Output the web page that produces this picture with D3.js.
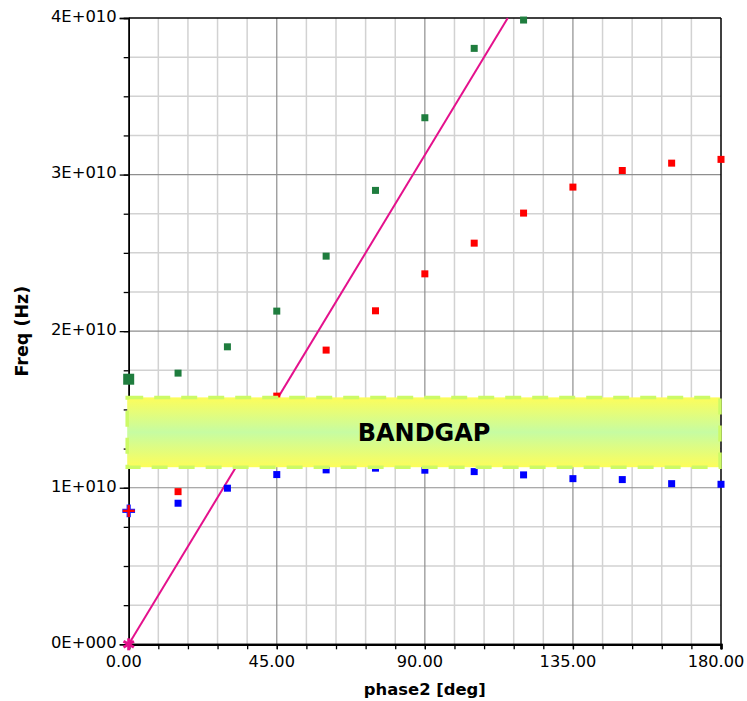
<!DOCTYPE html>
<html>
<head>
<meta charset="utf-8">
<script src="https://cdn.jsdelivr.net/npm/d3@7"></script>
<style>
  html, body { margin: 0; padding: 0; background: #ffffff; }
  svg { display: block; }
  text { font-family: "DejaVu Sans", Verdana, sans-serif; fill: #000; }
</style>
</head>
<body>
<svg id="chart" width="747" height="701"></svg>
<script>
// ---------- data ----------
const phases = [0, 15, 30, 45, 60, 75, 90, 105, 120, 135, 150, 165, 180];
const blueFreq  = [0.852e10, 0.901e10, 0.997e10, 1.084e10, 1.114e10, 1.125e10, 1.112e10, 1.103e10, 1.082e10, 1.058e10, 1.052e10, 1.026e10, 1.022e10];
const redFreq   = [0.852e10, 0.975e10, 1.24e10, 1.585e10, 1.879e10, 2.130e10, 2.366e10, 2.562e10, 2.754e10, 2.920e10, 3.026e10, 3.073e10, 3.097e10];
const greenPhases = [0, 15, 30, 45, 60, 75, 90, 105, 120];
const greenFreq = [1.693e10, 1.732e10, 1.900e10, 2.128e10, 2.479e10, 2.899e10, 3.363e10, 3.806e10, 3.987e10];
const lightLinePhase = [0, 115.2];
const lightLineFreq  = [0, 4.0e10];
const bandgapLow = 1.131e10;
const bandgapHigh = 1.577e10;
const bandgapLabel = "BANDGAP";
const xTickValues = [0, 45, 90, 135, 180];
const xTickLabels = ["0.00", "45.00", "90.00", "135.00", "180.00"];
const yTickValues = [0, 1e10, 2e10, 3e10, 4e10];
const yTickLabels = ["0E+000", "1E+010", "2E+010", "3E+010", "4E+010"];
const xMinorStep = 9;
const yMinorStep = 0.25e10;
const xTitle = "phase2 [deg]";
const yTitle = "Freq (Hz)";

// ---------- layout ----------
const L = 128.7, R = 721, T = 18, B = 644.3;
const svg = d3.select("#chart");
const x = d3.scaleLinear().domain([0, 180]).range([L, R]);
const y = d3.scaleLinear().domain([0, 4e10]).range([B, T]);

const xMinor = d3.range(0, 180 + 0.001, xMinorStep);
const yMinor = d3.range(0, 4e10 + 1, yMinorStep);

// gradient
const defs = svg.append("defs");
const grad = defs.append("linearGradient").attr("id", "bg").attr("x1", 0).attr("y1", 0).attr("x2", 0).attr("y2", 1);
grad.append("stop").attr("offset", "0%").attr("stop-color", "#fdfd5a");
grad.append("stop").attr("offset", "50%").attr("stop-color", "#c6fca2");
grad.append("stop").attr("offset", "100%").attr("stop-color", "#fdfd5a");
defs.append("clipPath").attr("id", "plotclip").append("rect")
  .attr("x", L).attr("y", T - 6).attr("width", R - L + 2).attr("height", B - T + 6);

// grid minor
const grid = svg.append("g");
grid.selectAll("line.vx").data(xMinor.filter(d => d % 45 !== 0)).join("line")
  .attr("x1", d => x(d)).attr("x2", d => x(d)).attr("y1", T).attr("y2", B)
  .attr("stroke", "#d2d2d2").attr("stroke-width", 1.5);
grid.selectAll("line.hy").data(yMinor.filter(d => Math.round(d / yMinorStep) % 4 !== 0)).join("line")
  .attr("x1", L).attr("x2", R).attr("y1", d => y(d)).attr("y2", d => y(d))
  .attr("stroke", "#d2d2d2").attr("stroke-width", 1.5);
// grid major
grid.selectAll("line.mx").data(xTickValues.slice(1, -1)).join("line")
  .attr("x1", d => x(d)).attr("x2", d => x(d)).attr("y1", T).attr("y2", B)
  .attr("stroke", "#8e8e8e").attr("stroke-width", 1.2);
grid.selectAll("line.my").data(yTickValues.slice(1, -1)).join("line")
  .attr("x1", L).attr("x2", R).attr("y1", d => y(d)).attr("y2", d => y(d))
  .attr("stroke", "#8e8e8e").attr("stroke-width", 1.2);

// frame top/right
svg.append("line").attr("x1", L).attr("x2", R).attr("y1", T).attr("y2", T).attr("stroke", "#000").attr("stroke-width", 1.5);
svg.append("line").attr("x1", R).attr("x2", R).attr("y1", T).attr("y2", B).attr("stroke", "#000").attr("stroke-width", 1.5);

// axes
const xAxisMinor = d3.axisBottom(x).tickValues(xMinor).tickSize(5).tickFormat("");
const gxm = svg.append("g").attr("transform", `translate(0,${B})`).call(xAxisMinor);
const xAxis = d3.axisBottom(x).tickValues(xTickValues).tickSize(5).tickPadding(6)
  .tickFormat((d, i) => xTickLabels[i]);
const gx = svg.append("g").attr("transform", `translate(0,${B})`).call(xAxis);
gx.selectAll("text").attr("font-size", 16.2).attr("font-family", "DejaVu Sans").attr("fill", "#000").attr("dx", -5.5);
[gxm, gx].forEach(g => {
  g.select(".domain").attr("stroke", "#000").attr("stroke-width", 2.2);
  g.selectAll(".tick line").attr("stroke", "#000").attr("stroke-width", 1.3);
});

const yAxisMinor = d3.axisLeft(y).tickValues(yMinor).tickSize(5).tickFormat("");
const gym = svg.append("g").attr("transform", `translate(${L},0)`).call(yAxisMinor);
const yAxis = d3.axisLeft(y).tickValues(yTickValues).tickSize(9).tickPadding(3)
  .tickFormat((d, i) => yTickLabels[i]);
const gy = svg.append("g").attr("transform", `translate(${L},0)`).call(yAxis);
gy.selectAll("text").attr("font-size", 16.4).attr("font-family", "DejaVu Sans").attr("fill", "#000").attr("dy", "0.2em");
[gym, gy].forEach(g => {
  g.select(".domain").attr("stroke", "#000").attr("stroke-width", 1.5);
  g.selectAll(".tick line").attr("stroke", "#000").attr("stroke-width", 1.3);
});

// titles
svg.append("text").attr("x", (L + R) / 2).attr("y", 695).attr("text-anchor", "middle")
  .attr("font-size", 16.4).attr("font-weight", "bold").text(xTitle);
svg.append("text").attr("transform", `translate(${28},${(T + B) / 2}) rotate(-90)`)
  .attr("text-anchor", "middle").attr("font-size", 17.5).attr("font-weight", "bold").text(yTitle);

// data layer
const plot = svg.append("g").attr("clip-path", "url(#plotclip)");

// light line
const lineData = lightLinePhase.map((p, i) => [p, lightLineFreq[i]]);
plot.append("path").datum(lineData)
  .attr("d", d3.line().x(d => x(d[0])).y(d => y(d[1])))
  .attr("fill", "none").attr("stroke", "#e4118c").attr("stroke-width", 2);

function squares(ph, vals, color, size) {
  svg.append("g").selectAll("rect").data(ph.map((p, i) => [p, vals[i]]).filter(d => d[0] > 0)).join("rect")
    .attr("x", d => x(d[0]) - size / 2).attr("y", d => y(d[1]) - size / 2)
    .attr("width", size).attr("height", size).attr("fill", color);
}
squares(phases, blueFreq, "#0000ff", 7);
squares(phases, redFreq, "#ff0000", 7);
squares(greenPhases, greenFreq, "#1f7d3e", 7);

// markers at phase 0
const sym = svg.append("g");
sym.append("rect").attr("x", x(greenPhases[0]) - 5.5).attr("y", y(greenFreq[0]) - 5.5)
  .attr("width", 11).attr("height", 11).attr("fill", "#1f7d3e");
sym.append("path").attr("transform", `translate(${x(phases[0])},${y(blueFreq[0])})`)
  .attr("d", d3.symbol(d3.symbolCross, 90)()).attr("fill", "#2020ff");
sym.append("path").attr("transform", `translate(${x(phases[0])},${y(redFreq[0])})`)
  .attr("d", "M-6,-1.2H6V1.2H-6Z M-1.2,-6H1.2V6H-1.2Z").attr("fill", "#ff0000");
// asterisk at origin
const ast = sym.append("g").attr("transform", `translate(${x(lightLinePhase[0])},${y(lightLineFreq[0])})`);
[0, 60, 120].forEach(a => {
  ast.append("line").attr("x1", -6).attr("x2", 6).attr("y1", 0).attr("y2", 0)
    .attr("transform", `rotate(${a + 90})`).attr("stroke", "#e4118c").attr("stroke-width", 3);
});

// bandgap box
const bx0 = x(0) - 1.5, bx1 = x(180) - 1;
svg.append("rect").attr("x", bx0).attr("y", y(bandgapHigh))
  .attr("width", bx1 - bx0).attr("height", y(bandgapLow) - y(bandgapHigh))
  .attr("fill", "url(#bg)").attr("stroke", "#ccfa66").attr("stroke-width", 3.5)
  .attr("stroke-dasharray", "16,11");
svg.append("text").attr("x", (bx0 + bx1) / 2 + 0.5).attr("y", (y(bandgapHigh) + y(bandgapLow)) / 2 + 9)
  .attr("text-anchor", "middle").attr("font-size", 24).attr("font-weight", "bold").text(bandgapLabel);
</script>
</body>
</html>
